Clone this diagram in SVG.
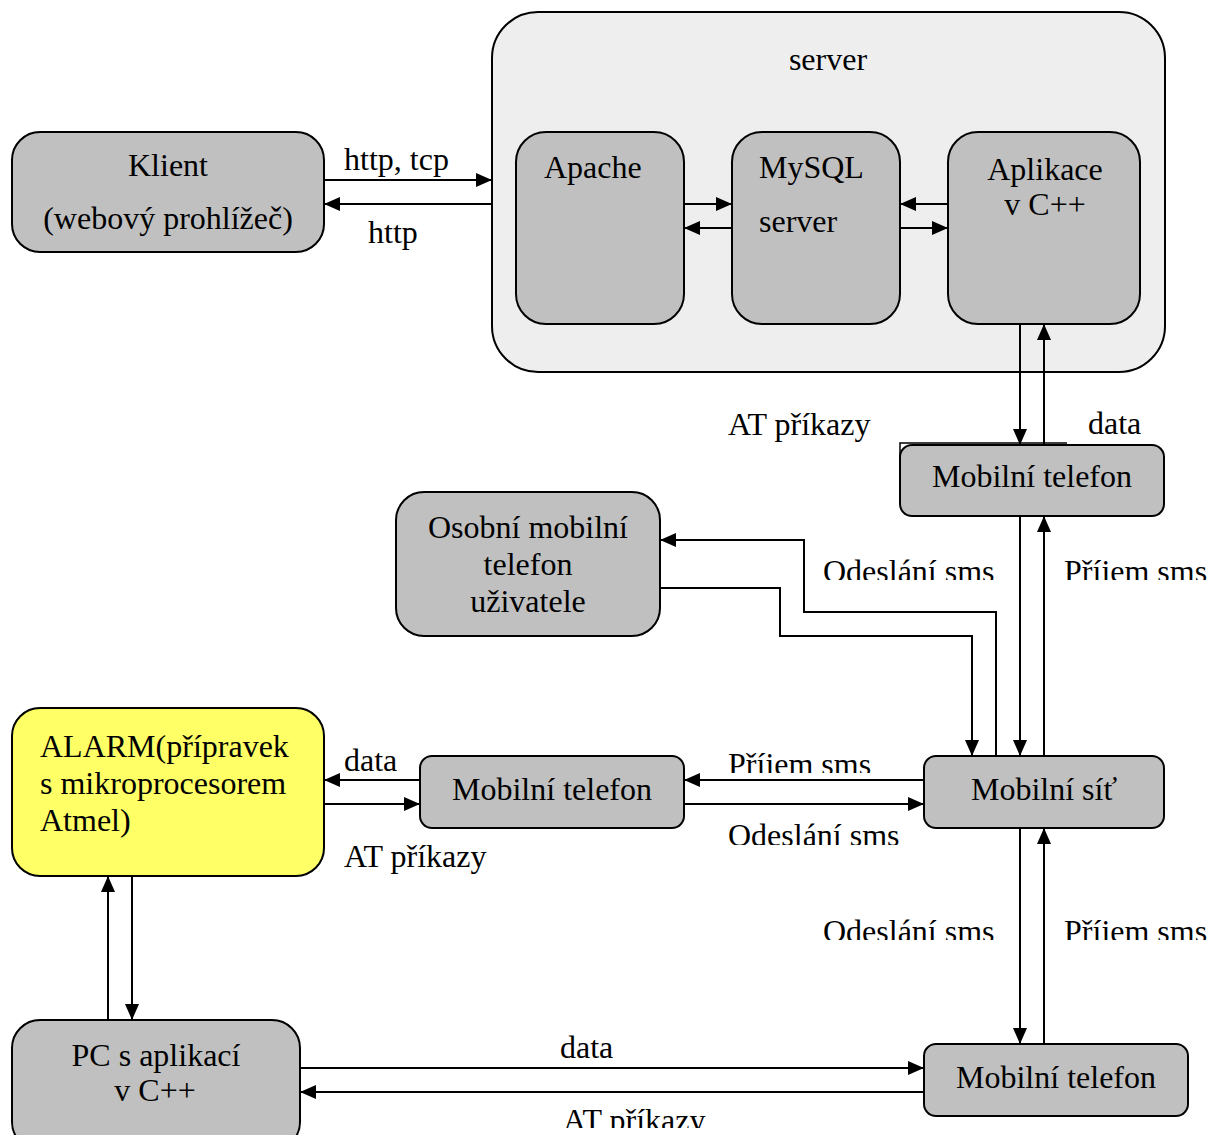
<svg xmlns="http://www.w3.org/2000/svg" width="1215" height="1135" viewBox="0 0 1215 1135">
<style>
.n{fill:#c0c0c0;stroke:#000;stroke-width:2}
.t{font-family:"Liberation Serif","Times New Roman",serif;font-size:32px;fill:#000}
.m{text-anchor:middle}
.c{fill:none;stroke:#000;stroke-width:2}
</style>
<defs>
<marker id="a" markerUnits="userSpaceOnUse" markerWidth="18" markerHeight="14" refX="16" refY="7" orient="auto"><path d="M0,0 L16,7 L0,14 Z" fill="#000"/></marker>
<clipPath id="k1"><rect x="800" y="540" width="415" height="40"/></clipPath>
<clipPath id="k2"><rect x="700" y="735" width="200" height="38"/></clipPath>
<clipPath id="k3"><rect x="700" y="810" width="220" height="35"/></clipPath>
<clipPath id="k4"><rect x="800" y="900" width="415" height="40"/></clipPath>
<clipPath id="k5"><rect x="540" y="1100" width="200" height="28"/></clipPath>
</defs>
<rect width="1215" height="1135" fill="#fff"/>
<g id="server"><rect x="492" y="12" width="673" height="360" rx="46" fill="#eeeeee" stroke="#000" stroke-width="2"/><text class="t m" x="828" y="70">server</text></g>
<g id="apache"><rect class="n" x="516" y="132" width="168" height="192" rx="30"/><text class="t" x="544" y="178">Apache</text></g>
<g id="mysql"><rect class="n" x="732" y="132" width="168" height="192" rx="30"/><text class="t" x="759" y="178">MySQL</text><text class="t" x="759" y="232">server</text></g>
<g id="aplikace"><rect class="n" x="948" y="132" width="192" height="192" rx="30"/><text class="t m" x="1045" y="180">Aplikace</text><text class="t m" x="1045" y="215">v C++</text></g>
<g id="klient"><rect class="n" x="12" y="132" width="312" height="120" rx="28"/><text class="t m" x="168" y="176">Klient</text><text class="t m" x="168" y="229">(webový prohlížeč)</text></g>
<g id="tel1"><rect class="n" x="900" y="445" width="264" height="71" rx="12"/><path fill="none" stroke="#000" stroke-width="1.5" d="M900,470 V443 H1067"/><text class="t m" x="1032" y="487">Mobilní telefon</text></g>
<g id="osobni"><rect class="n" x="396" y="492" width="264" height="144" rx="28"/><text class="t m" x="528" y="538">Osobní mobilní</text><text class="t m" x="528" y="575">telefon</text><text class="t m" x="528" y="612">uživatele</text></g>
<g id="alarm"><rect x="12" y="708" width="312" height="168" rx="28" fill="#ffff66" stroke="#000" stroke-width="2"/><text class="t" x="40" y="757">ALARM(přípravek</text><text class="t" x="40" y="794">s mikroprocesorem</text><text class="t" x="40" y="831">Atmel)</text></g>
<g id="tel2"><rect class="n" x="420" y="756" width="264" height="72" rx="12"/><text class="t m" x="552" y="800">Mobilní telefon</text></g>
<g id="sit"><rect class="n" x="924" y="756" width="240" height="72" rx="12"/><text class="t m" x="1044" y="800">Mobilní síť</text></g>
<g id="pc"><rect class="n" x="12" y="1020" width="288" height="130" rx="28"/><text class="t m" x="156" y="1066">PC s aplikací</text><text class="t m" x="155" y="1101">v C++</text></g>
<g id="tel3"><rect class="n" x="924" y="1044" width="264" height="72" rx="12"/><text class="t m" x="1056" y="1088">Mobilní telefon</text></g>
<g id="connectors">
<path class="c" d="M324,180 H492" marker-end="url(#a)"/>
<path class="c" d="M492,204 H324" marker-end="url(#a)"/>
<path class="c" d="M684,204 H732" marker-end="url(#a)"/>
<path class="c" d="M732,228 H684" marker-end="url(#a)"/>
<path class="c" d="M948,204 H900" marker-end="url(#a)"/>
<path class="c" d="M900,228 H948" marker-end="url(#a)"/>
<path class="c" d="M1020,324 V445" marker-end="url(#a)"/>
<path class="c" d="M1044,445 V324" marker-end="url(#a)"/>
<path class="c" d="M1020,516 V756" marker-end="url(#a)"/>
<path class="c" d="M1044,756 V516" marker-end="url(#a)"/>
<path class="c" d="M996,756 V612 H804 V540 H660" marker-end="url(#a)"/>
<path class="c" d="M660,588 H780 V636 H972 V756" marker-end="url(#a)"/>
<path class="c" d="M420,780 H324" marker-end="url(#a)"/>
<path class="c" d="M324,804 H420" marker-end="url(#a)"/>
<path class="c" d="M924,780 H684" marker-end="url(#a)"/>
<path class="c" d="M684,804 H924" marker-end="url(#a)"/>
<path class="c" d="M1020,828 V1044" marker-end="url(#a)"/>
<path class="c" d="M1044,1044 V828" marker-end="url(#a)"/>
<path class="c" d="M108,1020 V876" marker-end="url(#a)"/>
<path class="c" d="M132,876 V1020" marker-end="url(#a)"/>
<path class="c" d="M300,1068 H924" marker-end="url(#a)"/>
<path class="c" d="M924,1092 H300" marker-end="url(#a)"/>
</g>
<g id="labels">
<text class="t" x="344" y="170">http, tcp</text>
<text class="t" x="368" y="243">http</text>
<text class="t" x="728" y="435">AT příkazy</text>
<text class="t" x="1088" y="434">data</text>
<g clip-path="url(#k1)"><text class="t" x="823" y="582">Odeslání sms</text><text class="t" x="1064" y="582">Příjem sms</text></g>
<text class="t" x="344" y="771">data</text>
<g clip-path="url(#k2)"><text class="t" x="728" y="775">Příjem sms</text></g>
<g clip-path="url(#k3)"><text class="t" x="728" y="846">Odeslání sms</text></g>
<text class="t" x="344" y="867">AT příkazy</text>
<g clip-path="url(#k4)"><text class="t" x="823" y="942">Odeslání sms</text><text class="t" x="1064" y="942">Příjem sms</text></g>
<text class="t" x="560" y="1058">data</text>
<g clip-path="url(#k5)"><text class="t" x="563" y="1131">AT příkazy</text></g>
</g>
</svg>
